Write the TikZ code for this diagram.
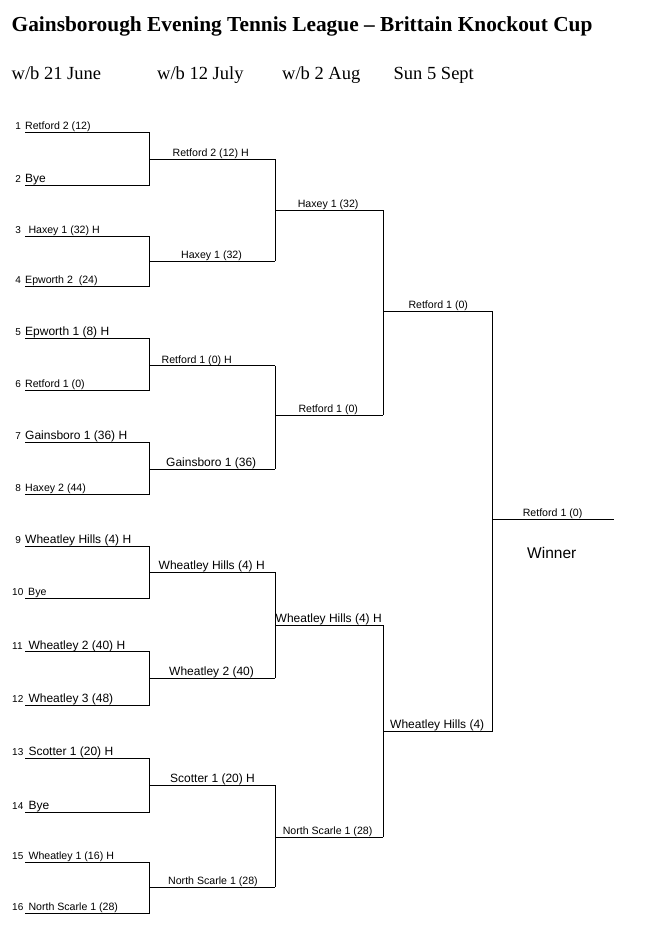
\documentclass[tikz,border=0pt]{standalone}
\usepackage{fontspec}
\setmainfont{Liberation Sans}
\newfontfamily\timesfont{Liberation Serif}
\begin{document}
\begin{tikzpicture}[x=1pt,y=-1pt,
  bline/.style={line width=0.9pt, black},
  sm/.style={font=\fontsize{10.6}{12}\selectfont, inner sep=0pt, anchor=base west},
  lg/.style={font=\fontsize{12}{14}\selectfont, inner sep=0pt, anchor=base west},
  num/.style={font=\fontsize{10}{12}\selectfont, inner sep=0pt, anchor=base west},
  head/.style={font=\timesfont\fontsize{18.5}{22}\selectfont, inner sep=0pt, anchor=base west},
  ttl/.style={font=\timesfont\bfseries\fontsize{21.35}{25}\selectfont, inner sep=0pt, anchor=base west},
  win/.style={font=\fontsize{15.5}{18}\selectfont, inner sep=0pt, anchor=base west},
]
\useasboundingbox (0,0) rectangle (652,937);
\fill[white] (0,0) rectangle (652,937);

% title and headings
\node[ttl] (title) at (11.5,31.7) {Gainsborough Evening Tennis League – Brittain Knockout Cup};
\node[head] (h1) at (11.5,79) {w/b 21 June};
\node[head] (h2) at (157,79) {w/b 12 July};
\node[head] (h3) at (282,79) {w/b 2 Aug};
\node[head] (h4) at (393.5,79) {Sun 5 Sept};

% round 1 coordinates
\foreach \i/\y in {1/132.3,2/185.3,3/236,4/286,5/338.3,6/390.3,7/442.3,8/494,
                   9/546.3,10/598.3,11/651.7,12/705.3,13/758.3,14/812.3,15/862.3,16/913.3}{
  \coordinate (a\i) at (25,\y);
  \coordinate (b\i) at (149.5,\y);
}
% round 2
\foreach \i/\y in {1/159.3,2/261.3,3/365.7,4/469,5/572.3,6/678.3,7/785.3,8/887.3}{
  \coordinate (c\i) at (149.5,\y);
  \coordinate (d\i) at (275,\y);
}
% round 3
\foreach \i/\y in {1/210,2/415.3,3/625.3,4/837.3}{
  \coordinate (e\i) at (275,\y);
  \coordinate (f\i) at (383,\y);
}
% round 4
\foreach \i/\y in {1/311,2/731.3}{
  \coordinate (g\i) at (383,\y);
  \coordinate (h\i) at (492.5,\y);
}
\coordinate (k1) at (492.5,519.3);
\coordinate (k2) at (614,519.3);

% lines
\foreach \i in {1,...,16}{ \draw[bline] (a\i) -- (b\i); }
\foreach \i/\j in {1/2,3/4,5/6,7/8,9/10,11/12,13/14,15/16}{ \draw[bline] (b\i) -- (b\j); }
\foreach \i in {1,...,8}{ \draw[bline] (c\i) -- (d\i); }
\foreach \i/\j in {1/2,3/4,5/6,7/8}{ \draw[bline] (d\i) -- (d\j); }
\foreach \i in {1,...,4}{ \draw[bline] (e\i) -- (f\i); }
\foreach \i/\j in {1/2,3/4}{ \draw[bline] (f\i) -- (f\j); }
\foreach \i in {1,2}{ \draw[bline] (g\i) -- (h\i); }
\draw[bline] (h1) -- (h2);
\draw[bline] (k1) -- (k2);

% numbers
\foreach \i/\y in {1/132.3,2/185.3,3/236,4/286,5/338.3,6/390.3,7/442.3,8/494,9/546.3}{
  \node[num] (n\i) at (15.3,\y-2.5) {\i};
}
\foreach \i/\y in {10/598.3,11/651.7,12/705.3,13/758.3,14/812.3,15/862.3,16/913.3}{
  \node[num] (n\i) at (12,\y-2.5) {\i};
}

% round 1 labels
\node[sm] (t1) at (25,129.8) {Retford 2 (12)};
\node[lg] (t2) at (25,182.8) {Bye};
\node[sm] (t3) at (28.3,233.5) {Haxey 1 (32) H};
\node[sm] (t4) at (25,283.5) {Epworth 2\ \ (24)};
\node[lg] (t5) at (25,335.8) {Epworth 1 (8) H};
\node[sm] (t6) at (25,387.8) {Retford 1 (0)};
\node[lg] (t7) at (25,439.8) {Gainsboro 1 (36) H};
\node[sm] (t8) at (25,491.5) {Haxey 2 (44)};
\node[lg] (t9) at (25,543.8) {Wheatley Hills (4) H};
\node[sm] (t10) at (28,595.8) {Bye};
\node[lg] (t11) at (28.3,649.2) {Wheatley 2 (40) H};
\node[lg] (t12) at (28.3,702.8) {Wheatley 3 (48)};
\node[lg] (t13) at (28.3,755.8) {Scotter 1 (20) H};
\node[lg] (t14) at (28.3,809.8) {Bye};
\node[sm] (t15) at (28.3,859.8) {Wheatley 1 (16) H};
\node[sm] (t16) at (28.3,910.8) {North Scarle 1 (28)};

% round 2 labels
\node[sm] (u1) at (172.5,156.8) {Retford 2 (12) H};
\node[sm] (u2) at (181,258.8) {Haxey 1 (32)};
\node[sm] (u3) at (161.5,363.2) {Retford 1 (0) H};
\node[lg] (u4) at (166,466.5) {Gainsboro 1 (36)};
\node[lg] (u5) at (158.5,569.8) {Wheatley Hills (4) H};
\node[lg] (u6) at (169,675.8) {Wheatley 2 (40)};
\node[lg] (u7) at (170,782.8) {Scotter 1 (20) H};
\node[sm] (u8) at (168,884.8) {North Scarle 1 (28)};

% round 3 labels
\node[sm] (v1) at (297.6,207.5) {Haxey 1 (32)};
\node[sm] (v2) at (298.3,412.8) {Retford 1 (0)};
\node[lg] (v3) at (275.5,622.8) {Wheatley Hills (4) H};
\node[sm] (v4) at (282.6,834.8) {North Scarle 1 (28)};

% round 4 labels
\node[sm] (w1) at (408.3,308.5) {Retford 1 (0)};
\node[lg] (w2) at (390,728.8) {Wheatley Hills (4)};

% final
\node[sm] (x1) at (522.6,516.8) {Retford 1 (0)};
\node[win] (x2) at (527,558) {Winner};
\end{tikzpicture}
\end{document}
